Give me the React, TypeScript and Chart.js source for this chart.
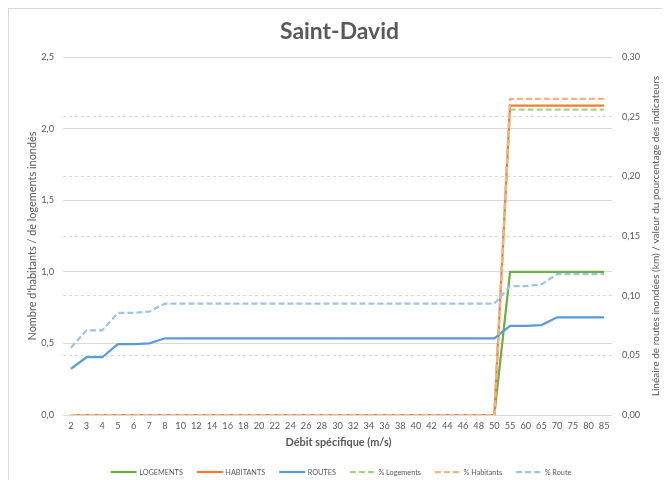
import React, { useEffect, useRef } from 'react';
import { Chart, registerables } from 'chart.js';

Chart.register(...registerables);

const categories = ['2', '3', '4', '5', '6', '7', '8', '10', '12', '14', '16', '18', '20', '22', '24', '26', '28', '30', '32', '34', '36', '38', '40', '42', '44', '46', '48', '50', '55', '60', '65', '70', '75', '80', '85'];

const logements = [0, 0, 0, 0, 0, 0, 0, 0, 0, 0, 0, 0, 0, 0, 0, 0, 0, 0, 0, 0, 0, 0, 0, 0, 0, 0, 0, 0, 1, 1, 1, 1, 1, 1, 1];
const habitants = [0, 0, 0, 0, 0, 0, 0, 0, 0, 0, 0, 0, 0, 0, 0, 0, 0, 0, 0, 0, 0, 0, 0, 0, 0, 0, 0, 0, 2.16, 2.16, 2.16, 2.16, 2.16, 2.16, 2.16];
const routes = [0.0386, 0.0484, 0.0484, 0.0593, 0.0593, 0.06, 0.0643, 0.0643, 0.0643, 0.0643, 0.0643, 0.0643, 0.0643, 0.0643, 0.0643, 0.0643, 0.0643, 0.0643, 0.0643, 0.0643, 0.0643, 0.0643, 0.0643, 0.0643, 0.0643, 0.0643, 0.0643, 0.0643, 0.0746, 0.0746, 0.0754, 0.0819, 0.0819, 0.0819, 0.0819];
const pctLogements = [0, 0, 0, 0, 0, 0, 0, 0, 0, 0, 0, 0, 0, 0, 0, 0, 0, 0, 0, 0, 0, 0, 0, 0, 0, 0, 0, 0, 0.256, 0.256, 0.256, 0.256, 0.256, 0.256, 0.256];
const pctHabitants = [0, 0, 0, 0, 0, 0, 0, 0, 0, 0, 0, 0, 0, 0, 0, 0, 0, 0, 0, 0, 0, 0, 0, 0, 0, 0, 0, 0, 0.265, 0.265, 0.265, 0.265, 0.265, 0.265, 0.265];
const pctRoute = [0.0564, 0.071, 0.071, 0.0855, 0.0855, 0.0866, 0.0933, 0.0933, 0.0933, 0.0933, 0.0933, 0.0933, 0.0933, 0.0933, 0.0933, 0.0933, 0.0933, 0.0933, 0.0933, 0.0933, 0.0933, 0.0933, 0.0933, 0.0933, 0.0933, 0.0933, 0.0933, 0.0933, 0.108, 0.108, 0.1095, 0.118, 0.118, 0.118, 0.118];

const seriesLabels = ['LOGEMENTS', 'HABITANTS', 'ROUTES', '% Logements', '% Habitants', '% Route'];
const chartTitle = 'Saint-David';
const xTitle = 'Débit spécifique (m/s)';
const leftTitle = "Nombre d'habitants / de logements inondés";
const rightTitle = 'Linéaire de routes inondées (km) / valeur du pourcentage des indicateurs';

const FONT = 'Lato, "Open Sans", sans-serif';
const TEXT = '#595959';
const GRID = '#d9d9d9';

const CW = 661;
const CH = 471;
const AREA_LEFT = 54;
const AREA_RIGHT = 603;
const AREA_BOTTOM = 406;

function fitSize(text: string, weight: string, target: number): number {
  const c = document.createElement('canvas');
  const ctx = c.getContext('2d')!;
  ctx.font = `${weight} 100px ${FONT}`;
  const w = ctx.measureText(text).width;
  return Math.round((100 * target / w) * 10) / 10;
}

export default function App() {
  const ref = useRef<HTMLCanvasElement>(null);

  useEffect(() => {
    const canvas = ref.current;
    if (!canvas) return;
    Chart.defaults.font.family = FONT;

    const titleSize = fitSize(chartTitle, 'bold', 119);
    const xTitleSize = fitSize(xTitle, 'bold', 106);
    const leftSize = fitSize(leftTitle, 'normal', 210);
    const rightSize = fitSize(rightTitle, 'normal', 320);
    const legendSize = fitSize('LOGEMENTS', 'normal', 44);
    const tickSize = Math.min(11, fitSize('0,30', 'normal', 18));
    const titleLH = titleSize * 1.2;
    const titleTop = 23 - titleLH / 2;
    const titleBottom = 48 - titleTop - titleLH;

    const mk = (i: number, data: number[], color: string, axis: string, dash: number[] = []) => ({
      label: seriesLabels[i],
      data,
      borderColor: color,
      backgroundColor: color,
      borderWidth: 2.25,
      borderDash: dash,
      yAxisID: axis,
      order: 6 - i,
      pointRadius: 0,
      pointHoverRadius: 0,
      tension: 0,
      fill: false,
    });

    const datasets = [
      mk(0, logements, '#70AD47', 'y'),
      mk(1, habitants, '#ED7D31', 'y'),
      mk(2, routes, '#5B9BD5', 'y1'),
      mk(3, pctLogements, '#A9D18E', 'y1', [6, 3]),
      mk(4, pctHabitants, '#F4B183', 'y1', [6, 3]),
      mk(5, pctRoute, '#9DC3E6', 'y1', [6, 3]),
    ];

    const decorPlugin = {
      id: 'decor',
      afterDraw(chart: any) {
        const ctx = chart.ctx;
        const area = chart.chartArea;
        const midY = (area.top + area.bottom) / 2;
        ctx.save();
        ctx.fillStyle = TEXT;
        ctx.textAlign = 'center';
        ctx.textBaseline = 'middle';
        // left axis title
        ctx.font = `${leftSize}px ${FONT}`;
        ctx.save();
        ctx.translate(23, midY);
        ctx.rotate(-Math.PI / 2);
        ctx.fillText(leftTitle, 0, 0);
        ctx.restore();
        // right axis title
        ctx.font = `${rightSize}px ${FONT}`;
        ctx.save();
        ctx.translate(646.5, midY);
        ctx.rotate(-Math.PI / 2);
        ctx.fillText(rightTitle, 0, 0);
        ctx.restore();
        // x axis title
        ctx.font = `bold ${xTitleSize}px ${FONT}`;
        ctx.fillText(xTitle, (area.left + area.right) / 2 + 1, 433);

        // legend
        ctx.font = `${legendSize}px ${FONT}`;
        ctx.textAlign = 'left';
        const lineW = 26;
        const gapText = 2.5;
        const gapItem = 14;
        const widths = chart.data.datasets.map((d: any) => ctx.measureText(d.label).width);
        const total = widths.reduce((s: number, w: number) => s + lineW + gapText + w, 0) + gapItem * (widths.length - 1);
        let x = 332 - total / 2;
        const ly = 463;
        chart.data.datasets.forEach((d: any, i: number) => {
          ctx.save();
          ctx.strokeStyle = d.borderColor;
          ctx.lineWidth = d.borderWidth;
          ctx.setLineDash(d.borderDash || []);
          ctx.beginPath();
          ctx.moveTo(x, ly);
          ctx.lineTo(x + lineW, ly);
          ctx.stroke();
          ctx.restore();
          ctx.fillStyle = TEXT;
          ctx.fillText(d.label, x + lineW + gapText, ly + 0.5);
          x += lineW + gapText + widths[i] + gapItem;
        });
        ctx.restore();
      },
    };

    const chart = new Chart(canvas, {
      type: 'line',
      data: { labels: categories, datasets },
      options: {
        responsive: false,
        animation: false,
        devicePixelRatio: 1,
        events: [],
        layout: { padding: 0 },
        plugins: {
          tooltip: { enabled: false },
          legend: { display: false },
          title: {
            display: true,
            text: chartTitle,
            color: TEXT,
            font: { size: titleSize, weight: 'bold', family: FONT, lineHeight: 1.2 },
            padding: { top: titleTop, bottom: titleBottom },
          },
        },
        scales: {
          x: {
            type: 'category',
            offset: true,
            grid: { display: false, drawTicks: false },
            border: { display: false },
            ticks: { color: TEXT, font: { size: tickSize }, padding: 6, autoSkip: false, maxRotation: 0, minRotation: 0 },
            afterFit(scale: any) {
              scale.height = CH - AREA_BOTTOM;
            },
          },
          y: {
            position: 'left',
            min: 0,
            max: 2.5,
            grid: { color: GRID, lineWidth: 1, drawTicks: false },
            border: { display: false },
            ticks: {
              stepSize: 0.5,
              color: TEXT,
              font: { size: tickSize },
              padding: 9,
              callback: (v: any) => Number(v).toFixed(1).replace('.', ','),
            },
            afterFit(scale: any) {
              scale.width = AREA_LEFT;
            },
          },
          y1: {
            position: 'right',
            min: 0,
            max: 0.3,
            grid: { color: GRID, lineWidth: 1, drawTicks: false, borderDash: [3, 3], dash: [3, 3], tickBorderDash: [3, 3] },
            border: { display: false, dash: [3, 3] },
            ticks: {
              stepSize: 0.05,
              color: TEXT,
              font: { size: tickSize },
              padding: 10,
              callback: (v: any) => Number(v).toFixed(2).replace('.', ','),
            },
            afterFit(scale: any) {
              scale.width = CW - AREA_RIGHT;
            },
          },
        },
      } as any,
      plugins: [decorPlugin],
    });

    return () => chart.destroy();
  }, []);

  return (
    <div
      style={{
        width: CW,
        height: CH,
        borderLeft: `1px solid ${GRID}`,
        borderTop: `1px solid ${GRID}`,
        background: '#fff',
      }}
    >
      <canvas ref={ref} width={CW} height={CH} style={{ display: 'block', width: CW, height: CH }} />
    </div>
  );
}
